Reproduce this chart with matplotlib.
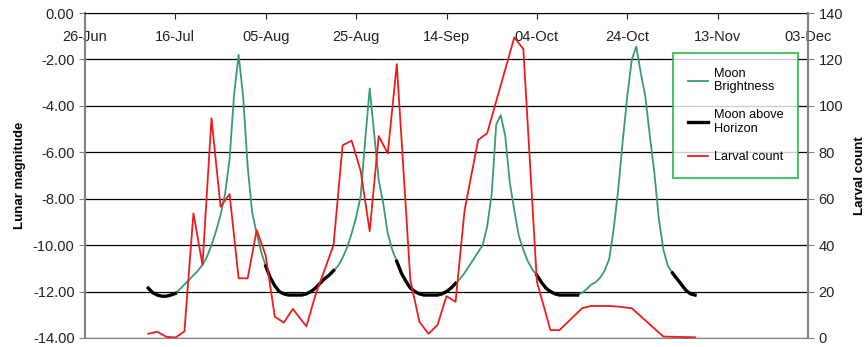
import numpy as np
import pandas as pd
import matplotlib
matplotlib.use('Agg')
import matplotlib.pyplot as plt
import matplotlib.dates as mdates

plt.rcParams['font.family'] = ['Liberation Sans', 'DejaVu Sans']
plt.rcParams['axes.unicode_minus'] = False

#%% data
start = pd.Timestamp('2007-06-26')
end = pd.Timestamp('2007-12-03')

# daily lunar magnitude, from day 14 (10-Jul) to day 135
moon_first_day = 14
moon_mag = [
    -11.85, -12.05, -12.15, -12.2, -12.2, -12.15, -12.08, -11.9, -11.7, -11.5,
    -11.3, -11.1, -10.85, -10.5, -10.0, -9.4, -8.7, -7.8, -6.3, -3.5,
    -1.8, -3.6, -6.6, -8.6, -9.5, -10.3, -10.9, -11.4, -11.75, -12.0,
    -12.1, -12.15, -12.15, -12.15, -12.15, -12.1, -12.0, -11.85, -11.65, -11.45,
    -11.3, -11.1, -10.9, -10.55, -10.1, -9.5, -8.8, -7.9, -5.5, -3.25,
    -5.2, -7.2, -8.2, -9.5, -10.2, -10.7, -11.2, -11.55, -11.85, -12.0,
    -12.1, -12.15, -12.15, -12.15, -12.15, -12.1, -12.0, -11.85, -11.65, -11.45,
    -11.2, -10.9, -10.6, -10.3, -10.0, -9.2, -7.8, -4.8, -4.4, -5.3,
    -7.3, -8.5, -9.6, -10.2, -10.7, -11.05, -11.3, -11.6, -11.85, -12.0,
    -12.1, -12.15, -12.15, -12.15, -12.15, -12.15, -12.05, -11.9, -11.7, -11.6,
    -11.4, -11.1, -10.6, -9.3, -7.6, -5.5, -3.6, -2.0, -1.45, -2.6,
    -3.6, -5.3, -6.9, -8.9, -10.2, -10.9, -11.2, -11.45, -11.7, -11.95,
    -12.1, -12.15,
]

# day ranges (inclusive) when the moon is above the horizon
horizon_spans = [(14, 20), (40, 55), (69, 82), (100, 109), (130, 135)]

# larval counts: sample day and count
larva_day = [14, 16, 18, 20, 22, 24, 26, 28, 30, 32, 34, 36, 38, 40, 42, 44, 46, 49,
             51, 55, 57, 59, 61, 63, 65, 67, 69, 72, 74, 76, 78, 80, 82, 84, 87, 89,
             95, 97, 100, 103, 105, 110, 112, 116, 118, 121, 128, 135]
larva_count = [1.8, 2.7, 0.5, 0.2, 2.8, 53.7, 31.5, 94.7, 56.5, 62, 25.7, 25.7, 46.5,
               35.5, 9.2, 6.6, 12.5, 5, 18.5, 40, 83, 85, 72, 46, 87, 79.5, 118, 25,
               7, 1.8, 5.6, 18, 15.6, 55, 85.3, 88.2, 129.5, 124.5, 24.3, 3.4, 3.4,
               12.8, 13.8, 13.8, 13.5, 12.8, 0.6, 0.3]

tick_dates = pd.date_range(start, end, freq='20D')

#%% build series
moon_dates = start + pd.to_timedelta(np.arange(len(moon_mag)) + moon_first_day, unit='D')
moon_mag = np.array(moon_mag)
days = np.arange(len(moon_mag)) + moon_first_day
above = np.full(len(moon_mag), np.nan)
for a, b in horizon_spans:
    sel = (days >= a) & (days <= b)
    above[sel] = moon_mag[sel]
larva_dates = start + pd.to_timedelta(larva_day, unit='D')

#%% plot
fig = plt.figure(figsize=(8.67, 3.47), dpi=100)
ax = fig.add_axes([0.098, 0.026, 0.834, 0.9365])
ax2 = ax.twinx()

l1, = ax.plot(moon_dates, moon_mag, color='#379a78', lw=1.3, zorder=3)
l2, = ax.plot(moon_dates, above, color='black', lw=2.4, zorder=4)
l3, = ax2.plot(larva_dates, larva_count, color='#ee1c1c', lw=1.3, zorder=5)

ax.set_xlim(start, end)
ax.set_ylim(-14, 0)
ax.set_yticks(np.arange(-14, 0.1, 2))
ax.yaxis.set_major_formatter(matplotlib.ticker.FormatStrFormatter('%.2f'))
ax.yaxis.grid(True, color='black', lw=0.9)
ax.set_axisbelow(True)

ax.set_xticks(tick_dates)
ax.xaxis.set_major_formatter(mdates.DateFormatter('%d-%b'))
ax.tick_params(axis='x', top=True, bottom=False, labeltop=True, labelbottom=False,
               direction='in', length=4, pad=-22, labelsize=10.5, colors='#222222')
ax.tick_params(axis='y', direction='out', length=4, labelsize=10.5, colors='#222222',
               color='#808080')

ax2.set_ylim(0, 140)
ax2.set_yticks(np.arange(0, 141, 20))
ax2.tick_params(axis='y', direction='out', length=4, labelsize=10.5, colors='#222222',
                color='#808080')

for s in ['top', 'bottom', 'left', 'right']:
    ax2.spines[s].set_visible(False)
ax.spines['right'].set_visible(False)
ax.spines['top'].set_color('black')
ax.spines['bottom'].set_color('#808080')
ax.spines['left'].set_color('#808080')
ax.spines['left'].set_linewidth(1.5)
ax2.spines['right'].set_visible(True)
ax2.spines['right'].set_color('#808080')
ax2.spines['right'].set_linewidth(1.5)

ax.set_ylabel('Lunar magnitude', fontsize=9.5, fontweight='bold', labelpad=5)
ax2.set_ylabel('Larval count', fontsize=9.5, fontweight='bold', labelpad=8)

leg = ax2.legend([l1, l2, l3], ['Moon\nBrightness', 'Moon above\nHorizon', 'Larval count'],
                 loc='upper left', bbox_to_anchor=(0.813, 0.877), fontsize=9.2,
                 frameon=True, fancybox=False, borderaxespad=0, handlelength=1.6,
                 labelspacing=1.25, borderpad=1.15, handletextpad=0.45)
leg.get_frame().set_edgecolor('#22b14c')
leg.get_frame().set_linewidth(1.5)

fig.savefig('out.png', dpi=100)
